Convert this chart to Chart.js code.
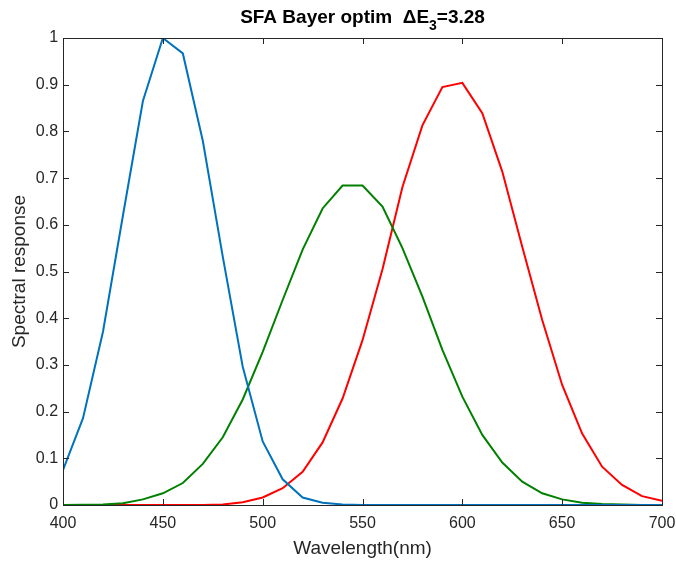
<!DOCTYPE html>
<html>
<head>
<meta charset="utf-8">
<script src="https://cdn.jsdelivr.net/npm/chart.js@4.4.1/dist/chart.umd.min.js"></script>
<style>
  body { margin: 0; background: #fff; }
</style>
</head>
<body>
<canvas id="specChart" width="676" height="562"></canvas>
<script>
const wavelengths = [400, 410, 420, 430, 440, 450, 460, 470, 480, 490, 500, 510, 520, 530, 540, 550,
                     560, 570, 580, 590, 600, 610, 620, 630, 640, 650, 660, 670, 680, 690, 700];

const blueResp = [0.075, 0.186, 0.371, 0.62, 0.865, 1.0, 0.967, 0.78, 0.532, 0.296, 0.136, 0.055, 0.016, 0.005, 0.001, 0,
                  0, 0, 0, 0, 0, 0, 0, 0, 0, 0, 0, 0, 0, 0, 0];
const greenResp = [0, 0.0005, 0.001, 0.004, 0.012, 0.025, 0.047, 0.088, 0.145, 0.226, 0.328, 0.439, 0.547, 0.635, 0.684, 0.684,
                   0.639, 0.55, 0.446, 0.332, 0.232, 0.15, 0.091, 0.05, 0.025, 0.012, 0.005, 0.002, 0.001, 0, 0];
const redResp = [0, 0, 0, 0, 0, 0, 0, 0, 0.001, 0.006, 0.016, 0.036, 0.071, 0.134, 0.228, 0.353,
                 0.505, 0.681, 0.813, 0.895, 0.904, 0.839, 0.714, 0.553, 0.396, 0.257, 0.153, 0.082, 0.043, 0.019, 0.009];

const xTicks = [400, 450, 500, 550, 600, 650, 700];
const yTicks = [0, 0.1, 0.2, 0.3, 0.4, 0.5, 0.6, 0.7, 0.8, 0.9, 1];

const titleMain = 'SFA Bayer optim  \u0394E';
const titleSub = '3';
const titleTail = '=3.28';

const FONT = 'Arial, "Liberation Sans", sans-serif';

function toPoints(vals) {
    return wavelengths.map((w, i) => ({ x: w, y: vals[i] }));
}

// matlab style box with inward ticks + title with subscript
const boxTicks = {
    id: 'boxTicks',
    afterDatasetsDraw(chart) {
        const { ctx, chartArea: a, scales } = chart;
        ctx.save();
        ctx.strokeStyle = '#262626';
        ctx.lineWidth = 1;
        ctx.beginPath();
        xTicks.forEach(v => {
            const px = Math.round(scales.x.getPixelForValue(v)) + 0.5;
            ctx.moveTo(px, a.bottom); ctx.lineTo(px, a.bottom - 6);
            ctx.moveTo(px, a.top); ctx.lineTo(px, a.top + 6);
        });
        yTicks.forEach(v => {
            const py = Math.round(scales.y.getPixelForValue(v)) + 0.5;
            ctx.moveTo(a.left, py); ctx.lineTo(a.left + 6, py);
            ctx.moveTo(a.right, py); ctx.lineTo(a.right - 6, py);
        });
        ctx.stroke();
        ctx.strokeRect(Math.round(a.left) + 0.5, Math.round(a.top) + 0.5,
                       Math.round(a.right - a.left), Math.round(a.bottom - a.top));

        // title
        ctx.fillStyle = '#000';
        ctx.textBaseline = 'alphabetic';
        ctx.textAlign = 'left';
        const big = 'bold 19px ' + FONT, small = 'bold 14px ' + FONT;
        ctx.font = big;
        const w1 = ctx.measureText(titleMain).width, w3 = ctx.measureText(titleTail).width;
        ctx.font = small;
        const w2 = ctx.measureText(titleSub).width;
        let x = (a.left + a.right) / 2 - (w1 + w2 + w3) / 2;
        const base = 23;
        ctx.font = big; ctx.fillText(titleMain, x, base); x += w1;
        ctx.font = small; ctx.fillText(titleSub, x, base + 7); x += w2;
        ctx.font = big; ctx.fillText(titleTail, x, base);
        ctx.restore();
    }
};

const ctx = document.getElementById('specChart').getContext('2d');
const specChart = new Chart(ctx, {
    type: 'line',
    data: {
        datasets: [
            { label: 'B', data: toPoints(blueResp), borderColor: '#0072BD' },
            { label: 'G', data: toPoints(greenResp), borderColor: '#008000' },
            { label: 'R', data: toPoints(redResp), borderColor: '#FF0000' }
        ]
    },
    options: {
        responsive: false,
        animation: false,
        elements: {
            line: { borderWidth: 2, tension: 0 },
            point: { radius: 0 }
        },
        layout: { padding: { left: 5, right: 14, top: 38, bottom: 4 } },
        scales: {
            x: {
                type: 'linear',
                min: 400,
                max: 700,
                afterBuildTicks: s => { s.ticks = xTicks.map(v => ({ value: v })); },
                afterFit: s => { s.height = 53; s.paddingLeft = 0; s.paddingRight = 0; },
                ticks: { color: '#262626', font: { family: FONT, size: 16, lineHeight: 1 }, padding: 11, maxRotation: 0 },
                grid: { display: false, drawTicks: false, tickLength: 0 },
                border: { display: false },
                title: { display: true, text: 'Wavelength(nm)', color: '#262626',
                         font: { family: FONT, size: 19, lineHeight: 1 }, padding: { top: 0, bottom: 0 } }
            },
            y: {
                min: 0,
                max: 1,
                afterBuildTicks: s => { s.ticks = yTicks.map(v => ({ value: v })); },
                afterFit: s => { s.paddingTop = 0; s.paddingBottom = 0; },
                ticks: { color: '#262626', font: { family: FONT, size: 16 }, padding: 5,
                         callback: v => String(+v.toFixed(1)) },
                grid: { display: false, drawTicks: false, tickLength: 0 },
                border: { display: false },
                title: { display: true, text: 'Spectral response', color: '#262626',
                         font: { family: FONT, size: 19 }, padding: { top: 3, bottom: 0 } }
            }
        },
        plugins: {
            legend: { display: false },
            tooltip: { enabled: false },
            title: { display: false }
        }
    },
    plugins: [boxTicks]
});
</script>
</body>
</html>
